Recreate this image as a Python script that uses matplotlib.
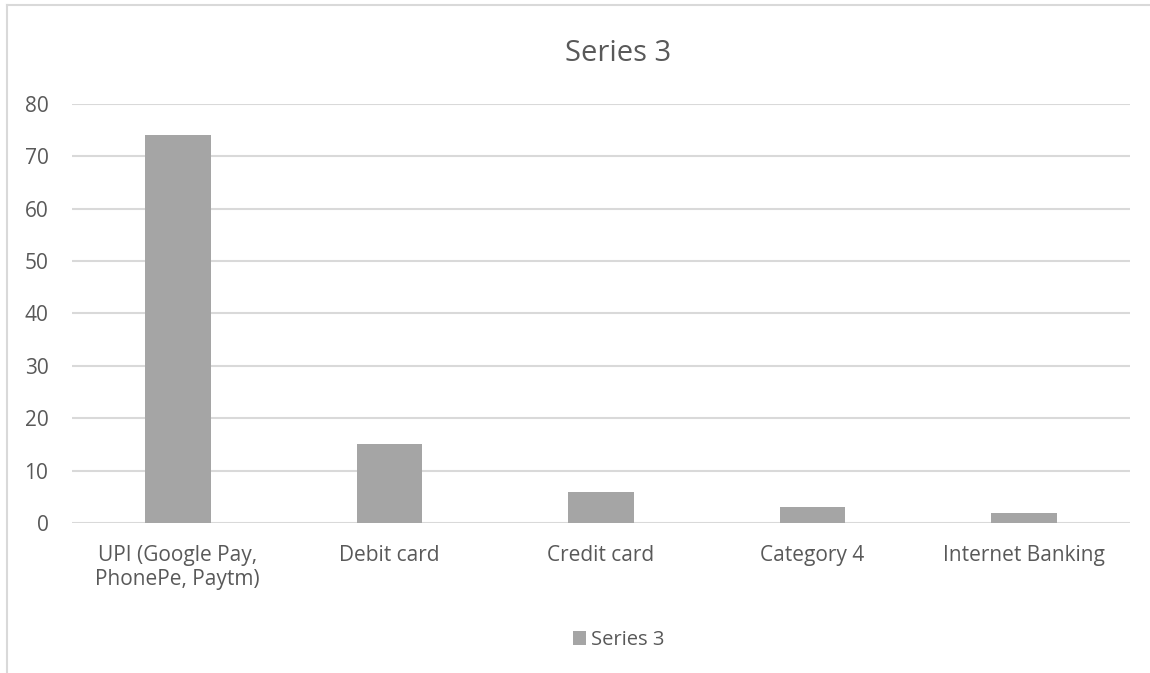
import matplotlib.pyplot as plt
from matplotlib.lines import Line2D
from matplotlib.patches import Patch

# data
categories = ["UPI (Google Pay,\nPhonePe, Paytm)", "Debit card", "Credit card",
              "Category 4", "Internet Banking"]
values = [74, 15, 6, 3, 2]
series_name = "Series 3"
y_ticks = [0, 10, 20, 30, 40, 50, 60, 70, 80]

bar_color = "#a5a5a5"
grid_color = "#d9d9d9"
text_color = "#595959"
plt.rcParams['font.family'] = ['Open Sans', 'DejaVu Sans']

fig = plt.figure(figsize=(11.5, 6.73), dpi=100)
ax = fig.add_axes([0.0626, 0.2229, 0.92, 0.6226])

x = list(range(len(categories)))
ax.bar(x, values, width=0.31, color=bar_color, zorder=3)

ax.set_xlim(-0.5, len(categories) - 0.5)
ax.set_ylim(0, 80)
ax.set_yticks(y_ticks)
ax.set_xticks(x)
ax.set_xticklabels(categories, fontsize=15, color=text_color, linespacing=1.2)
ax.tick_params(axis='y', labelsize=15, labelcolor=text_color, length=0, pad=17)
ax.tick_params(axis='x', length=0, pad=16)
ax.grid(axis='y', color=grid_color, linewidth=1.5, zorder=0)
for side in ax.spines.values():
    side.set_visible(False)

fig.text(0.5377, 0.921, series_name, fontsize=21, color=text_color,
         ha='center', va='center')

handle = Patch(facecolor=bar_color, edgecolor='none')
fig.legend([handle], [series_name], loc='center', bbox_to_anchor=(0.5377, 0.049),
           frameon=False, fontsize=14.5, labelcolor=text_color,
           handlelength=0.65, handleheight=0.65, handletextpad=0.25)

# chart border (only left and top visible in the crop)
fig.add_artist(Line2D([7 / 1150, 7 / 1150], [0, 1 - 5 / 673], color=grid_color,
                      linewidth=1.5, transform=fig.transFigure))
fig.add_artist(Line2D([7 / 1150, 1], [1 - 5 / 673, 1 - 5 / 673], color=grid_color,
                      linewidth=1.5, transform=fig.transFigure))

fig.savefig("out.png", dpi=100, facecolor="white")
